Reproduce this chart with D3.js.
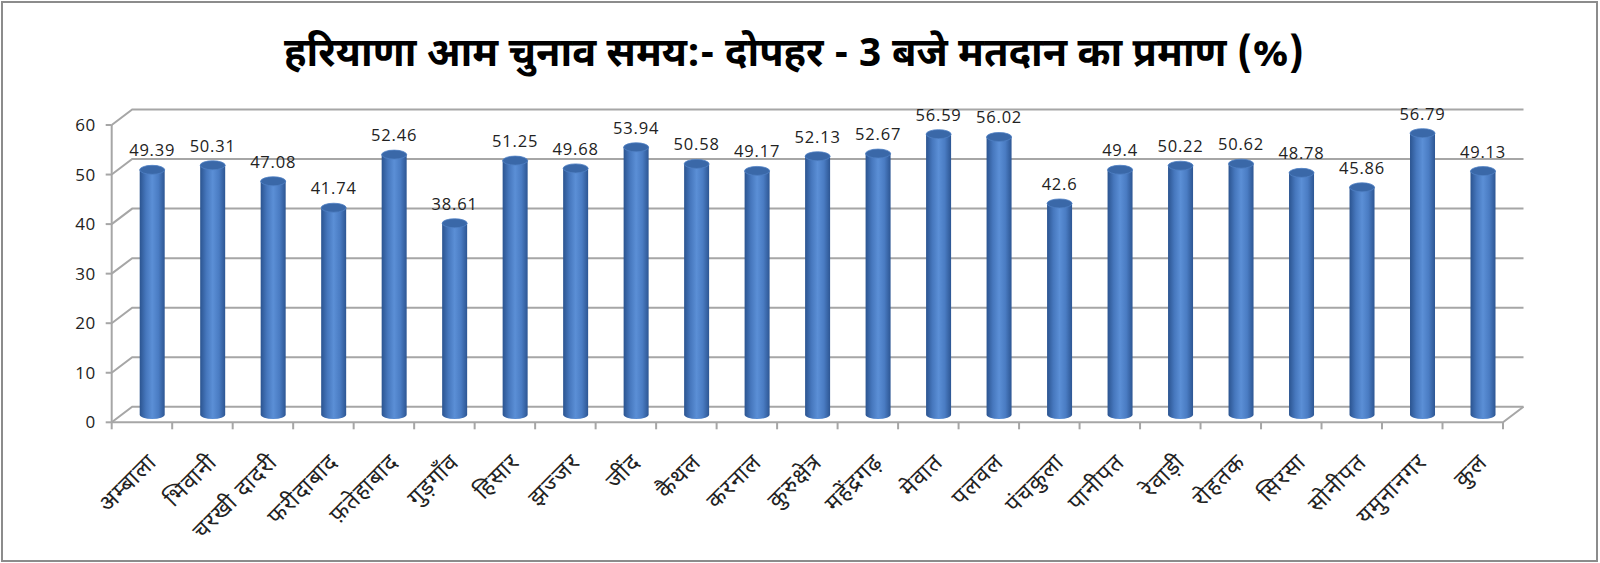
<!DOCTYPE html>
<html>
<head>
<meta charset="utf-8">
<script src="https://cdn.jsdelivr.net/npm/d3@7"></script>
<style>
  body { margin: 0; background: #fff; }
  svg { display: block; }
</style>
</head>
<body>
<div id="chart"></div>
<script>
// data
const districts = ["अम्बाला", "भिवानी", "चरखी  दादरी", "फरीदाबाद", "फ़तेहाबाद", "गुड़गाँव", "हिसार",
    "झज्जर", "जींद", "कैथल", "करनाल", "कुरुक्षेत्र", "महेंद्रगढ़", "मेवात", "पलवल", "पंचकुला",
    "पानीपत", "रेवाड़ी", "रोहतक", "सिरसा", "सोनीपत", "यमुनानगर", "कुल"];
const turnout = [49.39, 50.31, 47.08, 41.74, 52.46, 38.61, 51.25, 49.68, 53.94, 50.58, 49.17, 52.13,
    52.67, 56.59, 56.02, 42.6, 49.4, 50.22, 50.62, 48.78, 45.86, 56.79, 49.13];
const yTicks = [0, 10, 20, 30, 40, 50, 60];
const titleText = "हरियाणा आम चुनाव समय:- दोपहर - 3 बजे मतदान का प्रमाण (%)";

const W = 1600, H = 563;
const plot = { left: 111.7, right: 1503, top: 125, bottom: 422.3 };
const depthX = 20.5, depthY = -15.5;   // 3D offset of the back wall
const gridColor = "#a6a6a6";
const devFont = "'Noto Sans Devanagari', 'Noto Sans', 'Lohit Devanagari', sans-serif";

const svg = d3.select("#chart").append("svg")
    .attr("width", W)
    .attr("height", H);

// outer frame
svg.append("rect")
    .attr("x", 2).attr("y", 2)
    .attr("width", W - 5).attr("height", H - 4)
    .attr("fill", "#fff")
    .attr("stroke", "#8c8c8c")
    .attr("stroke-width", 2);

// title (squeezed to the width of the condensed original)
svg.append("text")
    .attr("x", 794)
    .attr("y", 66)
    .attr("text-anchor", "middle")
    .attr("textLength", 1020)
    .attr("lengthAdjust", "spacingAndGlyphs")
    .style("font-family", devFont)
    .style("font-weight", "bold")
    .style("font-size", "40px")
    .text(titleText);

const x = d3.scaleBand()
    .domain(districts)
    .range([plot.left, plot.right]);

const y = d3.scaleLinear()
    .domain([0, 60])
    .range([plot.bottom, plot.top]);

// gradient for the cylinders
const defs = svg.append("defs");
const grad = defs.append("linearGradient")
    .attr("id", "cyl")
    .attr("x1", "0%").attr("x2", "100%")
    .attr("y1", "0%").attr("y2", "0%");
[[0, "#2b5490"], [0.25, "#4677bd"], [0.5, "#5b8fd6"], [0.75, "#4a7cc3"], [1, "#2d5693"]]
    .forEach(s => grad.append("stop").attr("offset", s[0]).attr("stop-color", s[1]));

const grid = svg.append("g")
    .attr("stroke", gridColor)
    .attr("stroke-width", 2)
    .attr("fill", "none");

// back wall lines + side wall diagonals
grid.selectAll(".back")
    .data(yTicks)
    .enter().append("path")
    .attr("d", d => `M${plot.left},${y(d)} L${plot.left + depthX},${y(d) + depthY} L${plot.right + depthX},${y(d) + depthY}`);

// front y axis
grid.append("path")
    .attr("d", `M${plot.left},${y(60)} L${plot.left},${plot.bottom}`);
grid.selectAll(".ytick")
    .data(yTicks)
    .enter().append("path")
    .attr("d", d => `M${plot.left - 6},${y(d)} L${plot.left},${y(d)}`);

// floor front edge (x axis) and right diagonal
grid.append("path")
    .attr("d", `M${plot.left},${plot.bottom} L${plot.right},${plot.bottom} L${plot.right + depthX},${plot.bottom + depthY}`);
const boundaries = districts.map(d => x(d)).concat([plot.right]);
grid.selectAll(".xtick")
    .data(boundaries)
    .enter().append("path")
    .attr("d", d => `M${d},${plot.bottom} L${d},${plot.bottom + 7}`);

// y labels
svg.selectAll(".ylab")
    .data(yTicks)
    .enter().append("text")
    .attr("x", plot.left - 16)
    .attr("y", d => y(d) + 6)
    .attr("text-anchor", "end")
    .style("font-family", "'Open Sans', sans-serif")
    .style("font-size", "17px")
    .style("letter-spacing", "0.5px")
    .style("fill", "#222")
    .text(d => d);

// cylinders, drawn at mid depth
const barW = 25, ry = 4.5;
const cx = d => x(d) + x.bandwidth() / 2 + depthX / 2;
const midY = v => y(v) + depthY / 2;

const bars = svg.selectAll(".bar")
    .data(districts.map((d, i) => ({ name: d, value: turnout[i] })))
    .enter().append("g")
    .attr("class", "bar");

bars.append("path")
    .attr("d", d => {
        const x0 = cx(d.name) - barW / 2, x1 = cx(d.name) + barW / 2;
        const yt = midY(d.value), yb = midY(0);
        return `M${x0},${yt} L${x0},${yb} A${barW / 2},${ry} 0 0 0 ${x1},${yb} L${x1},${yt} Z`;
    })
    .attr("fill", "url(#cyl)");

bars.append("ellipse")
    .attr("cx", d => cx(d.name))
    .attr("cy", d => midY(d.value))
    .attr("rx", barW / 2)
    .attr("ry", ry)
    .attr("fill", "#3a68a8")
    .attr("stroke", "#4f80c4")
    .attr("stroke-width", 0.8);

// value labels
bars.append("text")
    .attr("x", d => cx(d.name))
    .attr("y", d => midY(d.value) - ry - 9)
    .attr("text-anchor", "middle")
    .style("font-family", "'Open Sans', sans-serif")
    .style("font-size", "16.5px")
    .style("letter-spacing", "0.8px")
    .style("fill", "#222")
    .text(d => d.value);

// category labels, rotated 45 degrees inside their own group
const xLabels = svg.selectAll(".xlab")
    .data(districts)
    .enter().append("g")
    .attr("class", "xlab")
    .attr("transform", d => "translate(" + (x(d) + x.bandwidth() / 2 + 16) + "," + (plot.bottom + 41) + ")");

xLabels.append("text")
    .attr("transform", "rotate(-45)")
    .attr("text-anchor", "end")
    .style("font-family", devFont)
    .style("font-size", "23px")
    .style("letter-spacing", "1.2px")
    .style("fill", "#222")
    .text(d => d);
</script>
</body>
</html>
